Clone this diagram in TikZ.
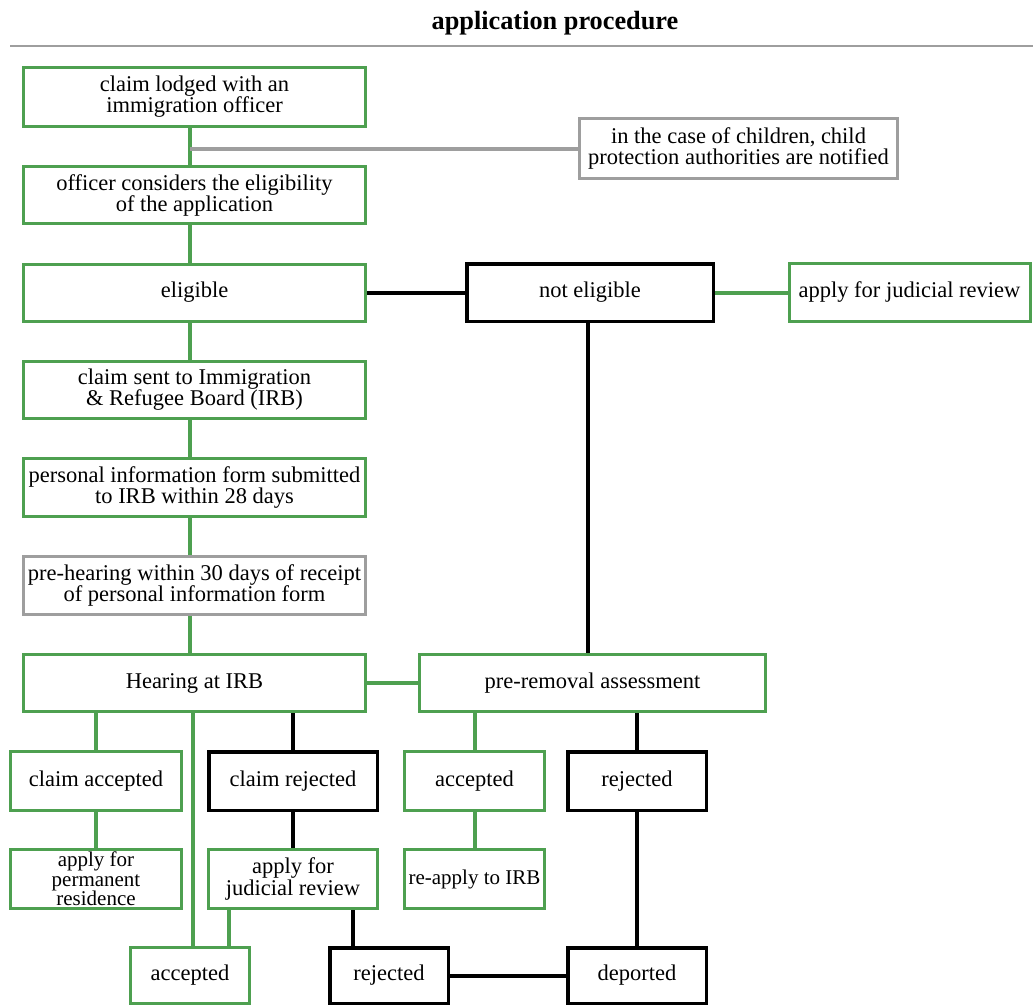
\documentclass[tikz,border=0pt]{standalone}
\usepackage{fontspec}
\setmainfont{Liberation Serif}
\definecolor{gr}{RGB}{78,160,80}
\definecolor{gy}{RGB}{158,158,158}
\tikzset{
  box/.style={draw, rectangle, inner sep=1pt, align=center, font=\fontsize{22.5}{21}\selectfont},
  gbox/.style={box, draw=gr, line width=3pt},
  kbox/.style={box, draw=black, line width=3.5pt},
  ybox/.style={box, draw=gy, line width=3pt},
  gline/.style={draw=gr, line width=4pt},
  kline/.style={draw=black, line width=4pt},
  yline/.style={draw=gy, line width=4pt},
  wide/.style={minimum width=342pt, minimum height=57pt},
}
\begin{document}
\begin{tikzpicture}[x=1pt,y=-1pt]
\useasboundingbox (0,0) rectangle (1033,1007);
\node[font=\fontsize{26.3}{28}\selectfont\bfseries] (title) at (555,23) {application procedure};
\coordinate (r1) at (10,46);
\coordinate (r2) at (1033,46);
\draw[draw=gy, line width=1.5pt] (r1) -- (r2);

\node[gbox, wide, minimum height=59pt] (n1) at (194.5,97) {claim lodged with an\\immigration officer};
\node[ybox, minimum width=318pt, minimum height=60pt] (kids) at (738.5,148.5) {in the case of children, child\\protection authorities are notified};
\node[gbox, wide] (n2) at (194.5,195) {officer considers the eligibility\\of the application};
\node[gbox, wide] (elig) at (194.5,292.5) {eligible};
\node[kbox, minimum width=246.5pt, minimum height=57.5pt] (notel) at (590,292.5) {not eligible};
\node[gbox, minimum width=241pt, minimum height=58pt] (ajr1) at (909.5,292.5) {apply for judicial review};
\node[gbox, wide] (sent) at (194.5,390) {claim sent to Immigration\\\& Refugee Board (IRB)};
\node[gbox, wide, minimum height=58pt] (pif) at (194.5,487.5) {personal information form submitted\\to IRB within 28 days};
\node[ybox, wide, minimum height=58pt] (preh) at (194.5,585.5) {pre-hearing within 30 days of receipt\\of personal information form};
\node[gbox, wide] (hear) at (194.5,683) {Hearing at IRB};
\node[gbox, minimum width=346pt, minimum height=57pt] (pra) at (592.5,683) {pre-removal assessment};

\node[gbox, minimum width=171pt, minimum height=59pt] (cacc) at (96,781) {claim accepted};
\node[kbox, minimum width=168.5pt, minimum height=58.5pt] (crej) at (293,781) {claim rejected};
\node[gbox, minimum width=140pt, minimum height=59pt] (pacc) at (474.5,781) {accepted};
\node[kbox, minimum width=138.5pt, minimum height=58.5pt] (prej) at (637,781) {rejected};

\node[gbox, minimum width=171pt, minimum height=59pt, inner sep=0pt, font=\fontsize{21}{19.5}\selectfont] (perm) at (96,879) {apply for\\permanent\\residence};
\node[gbox, minimum width=169pt, minimum height=59pt, font=\fontsize{22.5}{20}\selectfont] (ajr2) at (293,879) {apply for\\judicial review};
\node[gbox, minimum width=140pt, minimum height=59pt, inner sep=0pt, font=\fontsize{21}{21}\selectfont] (reapp) at (474.5,879) {re-apply to IRB};

\node[gbox, minimum width=119pt, minimum height=56pt] (bacc) at (190,975.5) {accepted};
\node[kbox, minimum width=118.5pt, minimum height=55.5pt] (brej) at (389,975.5) {rejected};
\node[kbox, minimum width=138.5pt, minimum height=55.5pt] (dep) at (637,975.5) {deported};

% spine
\coordinate (sp) at ([xshift=-4.5pt]n1.south);
\draw[gline] ([xshift=-4.5pt]n1.south) -- ([xshift=-4.5pt]n2.north);
\draw[yline] (kids.west) -- (kids.west -| sp);
\draw[gline] ([xshift=-4.5pt]n2.south) -- ([xshift=-4.5pt]elig.north);
\draw[gline] ([xshift=-4.5pt]elig.south) -- ([xshift=-4.5pt]sent.north);
\draw[gline] ([xshift=-4.5pt]sent.south) -- ([xshift=-4.5pt]pif.north);
\draw[gline] ([xshift=-4.5pt]pif.south) -- ([xshift=-4.5pt]preh.north);
\draw[gline] ([xshift=-4.5pt]preh.south) -- ([xshift=-4.5pt]hear.north);

\draw[kline] (elig.east) -- (notel.west);
\draw[gline] (notel.east) -- (ajr1.west);
\draw[kline] ([xshift=-2pt]notel.south) -- ([xshift=-2pt]notel.south |- pra.north);
\draw[gline] (hear.east) -- (pra.west);

\draw[gline] (cacc.north) -- (cacc.north |- hear.south);
\draw[gline] ([xshift=3pt]bacc.north) -- ([xshift=3pt]bacc.north |- hear.south);
\draw[kline] (crej.north) -- (crej.north |- hear.south);
\draw[gline] (cacc.south) -- (perm.north);
\draw[kline] (crej.south) -- (ajr2.north);
\draw[gline] ([xshift=-64pt]ajr2.south) -- ([xshift=-64pt]ajr2.south |- bacc.north);
\draw[kline] ([xshift=60pt]ajr2.south) -- ([xshift=60pt]ajr2.south |- brej.north);

\draw[gline] (pacc.north) -- (pacc.north |- pra.south);
\draw[kline] (prej.north) -- (prej.north |- pra.south);
\draw[gline] (pacc.south) -- (reapp.north);
\draw[kline] (prej.south) -- (dep.north);
\draw[kline] (brej.east) -- (dep.west);
\end{tikzpicture}
\end{document}
